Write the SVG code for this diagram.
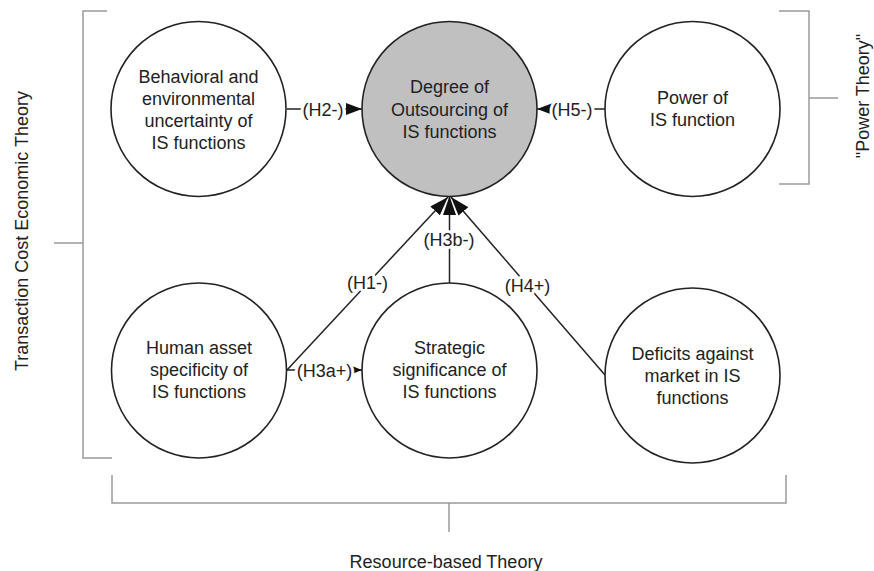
<svg xmlns="http://www.w3.org/2000/svg" width="874" height="571" viewBox="0 0 874 571">
<style>
text{font-family:"Liberation Sans",Arial,sans-serif;font-size:18px;fill:#222;text-anchor:middle}
.node circle{fill:#fff;stroke:#222;stroke-width:1.6}
.node.main circle{fill:#c0c0c0}
.br{fill:none;stroke:#9a9a9a;stroke-width:1.5}
.conn line{stroke:#222;stroke-width:1.5}
.lbl{stroke:#fff;stroke-width:6;paint-order:stroke;stroke-linejoin:round}
</style>
<defs>
<marker id="ah" markerUnits="userSpaceOnUse" markerWidth="16" markerHeight="12" refX="16" refY="6" orient="auto"><path d="M0,0 L16,6 L0,12 z" fill="#111"/></marker>
<marker id="ahs" markerUnits="userSpaceOnUse" markerWidth="10" markerHeight="8" refX="10" refY="4" orient="auto"><path d="M0,0 L10,4 L0,8 z" fill="#111"/></marker>
<marker id="ahb" markerUnits="userSpaceOnUse" markerWidth="19" markerHeight="13" refX="19" refY="6.5" orient="auto"><path d="M0,0 L19,6.5 L0,13 z" fill="#111"/></marker>
</defs>

<g id="brackets">
<path class="br" d="M107,11 H83 V458 H112 M54,243 H83"/>
<path class="br" d="M779,11 H809 V184 H779 M809,98 H838"/>
<path class="br" d="M112,475 V503 H786 V475 M449,503 V532"/>
<text transform="translate(28,231) rotate(-90)">Transaction Cost Economic Theory</text>
<text transform="translate(869,96) rotate(-90)">"Power Theory"</text>
<text x="446" y="568">Resource-based Theory</text>
</g>

<g id="connectors" class="conn">
<line x1="287" y1="109" x2="362" y2="109" marker-end="url(#ah)"/>
<line x1="605" y1="109" x2="537" y2="109" marker-end="url(#ah)"/>
<line x1="287" y1="370" x2="362" y2="370" marker-end="url(#ahs)"/>
<line x1="287" y1="370" x2="448" y2="197" marker-end="url(#ahb)"/>
<line x1="449.5" y1="283" x2="449.5" y2="196" marker-end="url(#ahb)"/>
<line x1="605" y1="375" x2="451" y2="197" marker-end="url(#ahb)"/>
</g>

<g id="labels">
<text class="lbl" x="323" y="116">(H2-)</text>
<text class="lbl" x="572" y="116">(H5-)</text>
<text class="lbl" x="324.5" y="377">(H3a+)</text>
<text class="lbl" x="367.5" y="289">(H1-)</text>
<text class="lbl" x="449" y="246">(H3b-)</text>
<text class="lbl" x="527.5" y="292">(H4+)</text>
</g>

<g id="n-uncertainty" class="node">
<circle cx="198.5" cy="109" r="87.5"/>
<text x="198.5" y="83">Behavioral and</text>
<text x="198.5" y="105">environmental</text>
<text x="198.5" y="127">uncertainty of</text>
<text x="198.5" y="149">IS functions</text>
</g>

<g id="n-outsourcing" class="node main">
<circle cx="449.5" cy="109" r="87.5"/>
<text x="449.5" y="93">Degree of</text>
<text x="449.5" y="116">Outsourcing of</text>
<text x="449.5" y="138">IS functions</text>
</g>

<g id="n-power" class="node">
<circle cx="692.5" cy="109" r="87.5"/>
<text x="692.5" y="104">Power of</text>
<text x="692.5" y="126">IS function</text>
</g>

<g id="n-human" class="node">
<circle cx="199" cy="370.5" r="87.5"/>
<text x="199" y="354">Human asset</text>
<text x="199" y="376">specificity of</text>
<text x="199" y="398">IS functions</text>
</g>

<g id="n-strategic" class="node">
<circle cx="449.5" cy="370.5" r="87.5"/>
<text x="449.5" y="354">Strategic</text>
<text x="449.5" y="376">significance of</text>
<text x="449.5" y="398">IS functions</text>
</g>

<g id="n-deficits" class="node">
<circle cx="692.5" cy="375.5" r="87.5"/>
<text x="692.5" y="360">Deficits against</text>
<text x="692.5" y="382">market in IS</text>
<text x="692.5" y="404">functions</text>
</g>
</svg>
